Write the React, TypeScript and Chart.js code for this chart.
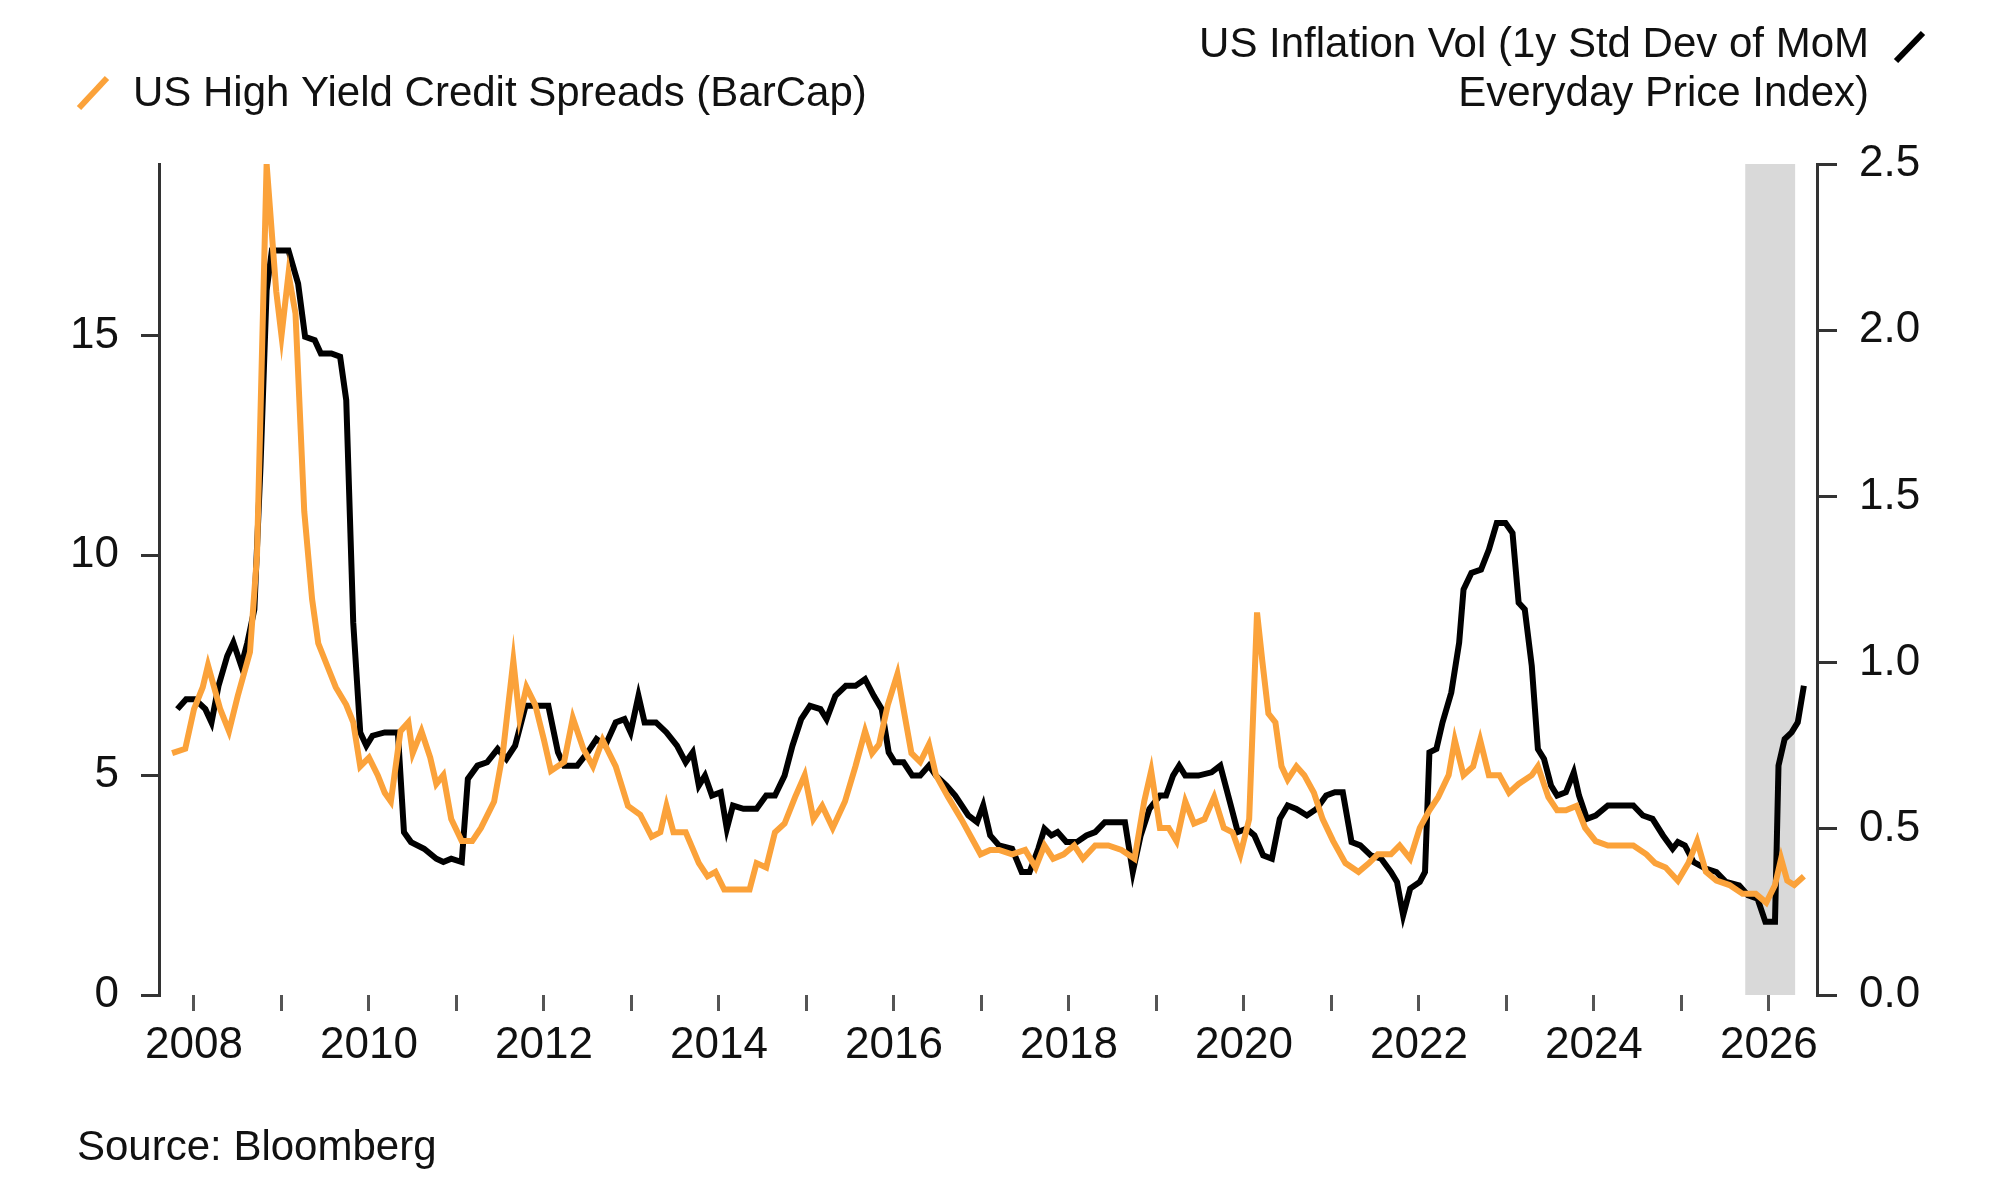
import React, { useEffect, useRef } from "react";
import { Chart, registerables } from "chart.js";
Chart.register(...registerables);

const hyDates = [2007.75,2007.9,2008.0,2008.1,2008.16,2008.3,2008.4,2008.5,2008.64,2008.72,2008.83,2008.94,2009.0,2009.08,2009.16,2009.26,2009.35,2009.42,2009.52,2009.62,2009.74,2009.82,2009.9,2010.0,2010.1,2010.18,2010.25,2010.36,2010.45,2010.5,2010.6,2010.7,2010.77,2010.85,2010.94,2011.06,2011.18,2011.28,2011.43,2011.53,2011.65,2011.72,2011.8,2011.9,2012.0,2012.08,2012.23,2012.33,2012.45,2012.56,2012.67,2012.82,2012.96,2013.1,2013.23,2013.33,2013.4,2013.48,2013.62,2013.77,2013.87,2013.96,2014.06,2014.2,2014.35,2014.43,2014.54,2014.64,2014.75,2014.87,2014.98,2015.08,2015.18,2015.3,2015.44,2015.56,2015.67,2015.75,2015.83,2015.93,2016.04,2016.11,2016.2,2016.3,2016.4,2016.48,2016.62,2016.77,2016.88,2016.99,2017.1,2017.2,2017.35,2017.5,2017.62,2017.72,2017.82,2017.94,2018.06,2018.16,2018.3,2018.45,2018.6,2018.75,2018.86,2018.94,2019.04,2019.14,2019.23,2019.33,2019.43,2019.55,2019.66,2019.77,2019.87,2019.96,2020.06,2020.15,2020.21,2020.28,2020.36,2020.43,2020.5,2020.6,2020.69,2020.8,2020.9,2021.02,2021.16,2021.31,2021.43,2021.53,2021.68,2021.78,2021.9,2022.01,2022.12,2022.22,2022.34,2022.41,2022.51,2022.62,2022.7,2022.8,2022.92,2023.03,2023.14,2023.29,2023.36,2023.48,2023.58,2023.68,2023.8,2023.9,2024.02,2024.16,2024.31,2024.45,2024.6,2024.7,2024.82,2024.96,2025.08,2025.18,2025.28,2025.4,2025.55,2025.7,2025.85,2025.97,2026.07,2026.14,2026.21,2026.29,2026.4];
const hySpreads = [5.5,5.6,6.5,7.0,7.5,6.5,6.0,6.8,7.8,10,18.9,16,15,16.4,15.5,11,9,8,7.5,7,6.6,6.2,5.2,5.4,5.0,4.6,4.4,6.0,6.2,5.5,6.0,5.4,4.8,5.0,4.0,3.5,3.5,3.8,4.4,5.5,7.6,6.3,7.0,6.6,5.8,5.1,5.3,6.3,5.6,5.2,5.8,5.2,4.3,4.1,3.6,3.7,4.3,3.7,3.7,3.0,2.7,2.8,2.4,2.4,2.4,3.0,2.9,3.7,3.9,4.5,5.0,4.0,4.3,3.8,4.4,5.2,6.0,5.5,5.7,6.6,7.3,6.5,5.5,5.3,5.7,5.0,4.5,4.0,3.6,3.2,3.3,3.3,3.2,3.3,2.9,3.4,3.1,3.2,3.4,3.1,3.4,3.4,3.3,3.1,4.4,5.1,3.8,3.8,3.5,4.4,3.9,4.0,4.5,3.8,3.7,3.2,4.0,8.7,7.6,6.4,6.2,5.2,4.9,5.2,5.0,4.6,4.0,3.5,3.0,2.8,3.0,3.2,3.2,3.4,3.1,3.8,4.2,4.5,5.0,5.8,5.0,5.2,5.8,5.0,5.0,4.6,4.8,5.0,5.2,4.5,4.2,4.2,4.3,3.8,3.5,3.4,3.4,3.4,3.2,3.0,2.9,2.6,3.0,3.5,2.8,2.6,2.5,2.3,2.3,2.1,2.5,3.1,2.6,2.5,2.7];

const volDates = [2007.81,2007.91,2008.01,2008.13,2008.2,2008.28,2008.38,2008.45,2008.54,2008.61,2008.69,2008.76,2008.83,2008.89,2008.98,2009.08,2009.19,2009.27,2009.38,2009.45,2009.57,2009.67,2009.74,2009.82,2009.9,2009.97,2010.04,2010.18,2010.33,2010.4,2010.48,2010.63,2010.77,2010.85,2010.94,2011.06,2011.13,2011.24,2011.35,2011.47,2011.57,2011.67,2011.79,2011.9,2012.05,2012.16,2012.23,2012.38,2012.5,2012.6,2012.7,2012.82,2012.92,2012.99,2013.08,2013.15,2013.28,2013.4,2013.52,2013.62,2013.7,2013.77,2013.84,2013.92,2014.02,2014.09,2014.16,2014.28,2014.43,2014.54,2014.64,2014.75,2014.84,2014.94,2015.04,2015.16,2015.23,2015.33,2015.45,2015.56,2015.67,2015.77,2015.86,2015.94,2016.01,2016.11,2016.21,2016.3,2016.4,2016.48,2016.6,2016.7,2016.85,2016.95,2017.02,2017.1,2017.2,2017.35,2017.46,2017.55,2017.65,2017.72,2017.8,2017.87,2017.97,2018.09,2018.2,2018.3,2018.41,2018.53,2018.64,2018.73,2018.82,2018.92,2019.04,2019.11,2019.19,2019.26,2019.33,2019.48,2019.63,2019.73,2019.82,2019.93,2020.03,2020.12,2020.22,2020.32,2020.41,2020.5,2020.6,2020.72,2020.83,2020.94,2021.04,2021.13,2021.23,2021.33,2021.45,2021.57,2021.68,2021.75,2021.82,2021.9,2022.01,2022.07,2022.12,2022.2,2022.27,2022.37,2022.46,2022.51,2022.6,2022.71,2022.8,2022.89,2022.99,2023.07,2023.14,2023.21,2023.29,2023.36,2023.43,2023.51,2023.58,2023.68,2023.77,2023.83,2023.92,2024.02,2024.16,2024.31,2024.45,2024.56,2024.67,2024.79,2024.9,2024.96,2025.04,2025.14,2025.28,2025.4,2025.51,2025.66,2025.76,2025.87,2025.96,2026.07,2026.11,2026.18,2026.26,2026.33,2026.4];
const volValues = [.86,.89,.89,.86,.82,.93,1.02,1.06,.99,1.06,1.16,1.59,2.12,2.24,2.24,2.24,2.14,1.98,1.97,1.93,1.93,1.92,1.79,1.12,.79,.75,.78,.79,.79,.49,.46,.44,.41,.40,.41,.40,.65,.69,.70,.74,.71,.75,.87,.87,.87,.73,.69,.69,.73,.77,.75,.82,.83,.79,.90,.82,.82,.79,.75,.70,.73,.63,.66,.60,.61,.50,.57,.56,.56,.60,.60,.66,.75,.83,.87,.86,.83,.90,.93,.93,.95,.90,.86,.73,.70,.70,.66,.66,.69,.66,.63,.60,.54,.52,.57,.48,.45,.44,.37,.37,.44,.50,.48,.49,.46,.46,.48,.49,.52,.52,.52,.37,.48,.56,.60,.60,.66,.69,.66,.66,.67,.69,.60,.49,.50,.48,.42,.41,.53,.57,.56,.54,.56,.60,.61,.61,.46,.45,.42,.41,.37,.34,.24,.32,.34,.37,.73,.74,.82,.91,1.06,1.22,1.27,1.28,1.34,1.42,1.42,1.39,1.18,1.16,.99,.74,.71,.63,.60,.61,.67,.60,.53,.54,.57,.57,.57,.54,.53,.48,.44,.46,.45,.40,.38,.37,.34,.33,.30,.29,.22,.22,.69,.77,.79,.82,.93];

const yearTicks = [2008,2009,2010,2011,2012,2013,2014,2015,2016,2017,2018,2019,2020,2021,2022,2023,2024,2025,2026];
const leftTicks = [0,5,10,15];
const rightTicks = [0,0.5,1.0,1.5,2.0,2.5];
const shadeStart = 2025.73;
const shadeEnd = 2026.3;

const ORANGE = "#FBA23A";
const FONT = "'Liberation Sans', Arial, sans-serif";

export default function App() {
  const ref = useRef<HTMLCanvasElement | null>(null);
  useEffect(() => {
    document.body.style.margin = "0";
    const canvas = ref.current!;
    const shade = {
      id: "shade",
      beforeDatasetsDraw(chart: any) {
        const x = chart.scales.x, ca = chart.chartArea, ctx = chart.ctx;
        ctx.save();
        ctx.fillStyle = "#d9d9d9";
        const a = x.getPixelForValue(shadeStart), b = x.getPixelForValue(shadeEnd);
        ctx.fillRect(a, ca.top, b - a, ca.bottom - ca.top);
        ctx.restore();
      },
    };
    const texts = {
      id: "texts",
      afterDraw(chart: any) {
        const ctx = chart.ctx;
        ctx.save();
        ctx.font = `42px ${FONT}`;
        ctx.fillStyle = "#111";
        ctx.textBaseline = "alphabetic";
        ctx.textAlign = "left";
        ctx.fillText("US High Yield Credit Spreads (BarCap)", 133, 106);
        ctx.textAlign = "right";
        ctx.fillText("US Inflation Vol (1y Std Dev of MoM", 1869, 57);
        ctx.fillText("Everyday Price Index)", 1869, 106);
        ctx.textAlign = "left";
        ctx.fillText("Source: Bloomberg", 77, 1160);
        ctx.lineWidth = 6;
        ctx.lineCap = "butt";
        ctx.strokeStyle = ORANGE;
        ctx.beginPath(); ctx.moveTo(79, 108); ctx.lineTo(107, 78); ctx.stroke();
        ctx.strokeStyle = "#000";
        ctx.beginPath(); ctx.moveTo(1896, 61); ctx.lineTo(1923, 33); ctx.stroke();
        ctx.restore();
      },
    };
    const chart = new Chart(canvas, {
      type: "line",
      data: {
        datasets: [
          {
            label: "US High Yield Credit Spreads (BarCap)",
            data: hyDates.map((d, i) => ({ x: d, y: hySpreads[i] })),
            borderColor: ORANGE, borderWidth: 6, pointRadius: 0, yAxisID: "y", order: 0, tension: 0,
          },
          {
            label: "US Inflation Vol",
            data: volDates.map((d, i) => ({ x: d, y: volValues[i] })),
            borderColor: "#000", borderWidth: 6, pointRadius: 0, yAxisID: "y1", order: 1, tension: 0,
          },
        ],
      },
      options: {
        animation: false,
        responsive: false,
        devicePixelRatio: 1,
        layout: { padding: { top: 164, left: 0, right: 0, bottom: 0 } },
        plugins: { legend: { display: false }, tooltip: { enabled: false } },
        scales: {
          x: {
            type: "linear", min: 2007.6, max: 2026.55,
            afterBuildTicks: (s: any) => { s.ticks = yearTicks.map((v) => ({ value: v })); },
            afterFit: (s: any) => { s.height = 198; },
            grid: { display: true, drawOnChartArea: false, drawTicks: true, tickLength: 16, tickColor: "#555", lineWidth: 3 },
            border: { display: false },
            ticks: {
              autoSkip: false, maxRotation: 0, padding: 8, color: "#111",
              font: { family: FONT, size: 44 },
              callback: (v: any) => (Number(v) % 2 === 0 ? String(v) : ""),
            },
          },
          y: {
            position: "left", min: 0, max: 18.9,
            afterBuildTicks: (s: any) => { s.ticks = leftTicks.map((v) => ({ value: v })); },
            afterFit: (s: any) => { s.width = 159; },
            grid: { drawOnChartArea: false, drawTicks: true, tickLength: 18, tickColor: "#333", lineWidth: 3 },
            border: { display: true, color: "#333", width: 3 },
            ticks: { padding: 22, color: "#111", font: { family: FONT, size: 44 }, callback: (v: any) => String(v) },
          },
          y1: {
            position: "right", min: 0, max: 2.5,
            afterBuildTicks: (s: any) => { s.ticks = rightTicks.map((v) => ({ value: v })); },
            afterFit: (s: any) => { s.width = 183; },
            grid: { drawOnChartArea: false, drawTicks: true, tickLength: 20, tickColor: "#333", lineWidth: 3 },
            border: { display: true, color: "#333", width: 3 },
            ticks: { padding: 22, color: "#111", font: { family: FONT, size: 44 }, callback: (v: any) => Number(v).toFixed(1) },
          },
        },
      },
      plugins: [shade, texts],
    } as any);
    return () => chart.destroy();
  }, []);
  return (
    <div style={{ width: 2000, height: 1193, background: "#fff" }}>
      <canvas ref={ref} width={2000} height={1193} style={{ display: "block" }} />
    </div>
  );
}
